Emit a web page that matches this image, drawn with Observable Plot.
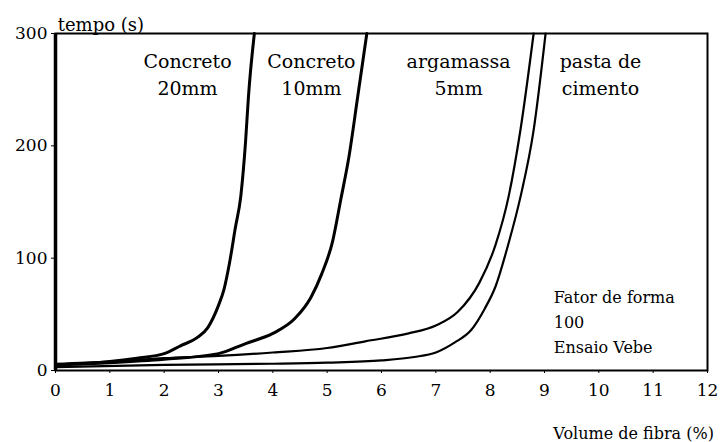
<!DOCTYPE html>
<html>
<head>
<meta charset="utf-8">
<script src="https://cdn.jsdelivr.net/npm/d3@7"></script>
<script src="https://cdn.jsdelivr.net/npm/@observablehq/plot@0.6"></script>
<style>
  html, body { margin: 0; padding: 0; background: #fff; }
  #chart svg { display: block; }
</style>
</head>
<body>
<div id="chart"></div>
<script>
// ---- data ----
const xTicks = [0, 1, 2, 3, 4, 5, 6, 7, 8, 9, 10, 11, 12];
const yTicks = [0, 100, 200, 300];

const seriesNames = ["Concreto 20mm", "Concreto 10mm", "argamassa 5mm", "pasta de cimento"];

const c20X = [0, 1, 1.5, 2, 2.3, 2.6, 2.8, 3.0, 3.1, 3.2, 3.31, 3.41, 3.5, 3.55, 3.66];
const c20Y = [5, 8, 11, 15, 22, 29, 38, 58, 72, 95, 127, 155, 205, 243, 300];

const c10X = [0, 1, 2, 3, 3.5, 4, 4.4, 4.7, 4.9, 5.1, 5.25, 5.4, 5.56, 5.73];
const c10Y = [5, 7, 10, 15, 24, 33, 46, 65, 86, 115, 152, 190, 243, 300];

const argX = [0, 1, 2, 3, 4, 5, 5.7, 6.5, 7, 7.4, 7.8, 8.1, 8.34, 8.56, 8.8];
const argY = [6, 8, 11, 13, 16, 20, 26, 33, 40, 52, 78, 112, 155, 215, 300];

const pasX = [0, 2, 4, 5, 6, 6.6, 7.0, 7.35, 7.65, 7.9, 8.1, 8.32, 8.56, 8.8, 9.02];
const pasY = [3, 5, 6, 7, 9, 12, 16, 25, 36, 55, 75, 110, 155, 214, 300];

const curveLabels = ["Concreto\n20mm", "Concreto\n10mm", "argamassa\n5mm", "pasta de\ncimento"];
const curveLabelX = [2.43, 4.71, 7.42, 10.03];
const curveLabelY = [265, 265, 265, 265];

const noteText = "Fator de forma\n100\nEnsaio Vebe";
const xTitle = "Volume de fibra (%)";
const yTitle = "tempo (s)";

// ---- build table ----
const allX = [c20X, c10X, argX, pasX];
const allY = [c20Y, c10Y, argY, pasY];
const rows = [];
seriesNames.forEach((name, i) => {
  allX[i].forEach((x, j) => rows.push({series: name, x, y: allY[i][j]}));
});
const labelRows = curveLabels.map((t, i) => ({t, x: curveLabelX[i], y: curveLabelY[i]}));

const font = "DejaVu Serif";

const chart = Plot.plot({
  width: 727,
  height: 442,
  marginLeft: 55,
  marginRight: 20,
  marginTop: 33,
  marginBottom: 72,
  style: {fontFamily: font, fontSize: "17px", color: "#000", background: "#fff"},
  x: {domain: [0, 12], label: null},
  y: {domain: [0, 300], label: null},
  marks: [
    Plot.frame({stroke: "#000", strokeWidth: 2}),
    Plot.ruleX([0], {stroke: "#000", strokeWidth: 3.5}),
    Plot.axisX({ticks: xTicks, tickSize: 3, tickPadding: 10, fontSize: 17, fontFamily: font}),
    Plot.axisY({ticks: yTicks, tickSize: 4, tickPadding: 4, fontSize: 17, fontFamily: font}),
    Plot.line(rows, {
      x: "x", y: "y", z: "series",
      stroke: "#000",
      strokeWidth: d => (d.series.startsWith("Concreto") ? 3 : 2.2),
      curve: "monotone-x"
    }),
    Plot.text(labelRows, {
      x: "x", y: "y", text: "t",
      fontSize: 19, lineHeight: 1.4, fontFamily: font,
      fill: "#000", textAnchor: "middle"
    }),
    Plot.text([noteText], {
      x: 9.17, y: 45, text: d => d,
      fontSize: 16, lineHeight: 1.55, fontFamily: font,
      fill: "#000", textAnchor: "start"
    }),
    Plot.text([xTitle], {
      x: 10.64, y: -56, text: d => d,
      fontSize: 16, fontFamily: font, fill: "#000", textAnchor: "middle"
    }),
    Plot.text([yTitle], {
      x: 0.04, y: 307, text: d => d,
      fontSize: 18, fontFamily: font, fill: "#000", textAnchor: "start"
    })
  ]
});
document.getElementById("chart").appendChild(chart);
</script>
</body>
</html>
